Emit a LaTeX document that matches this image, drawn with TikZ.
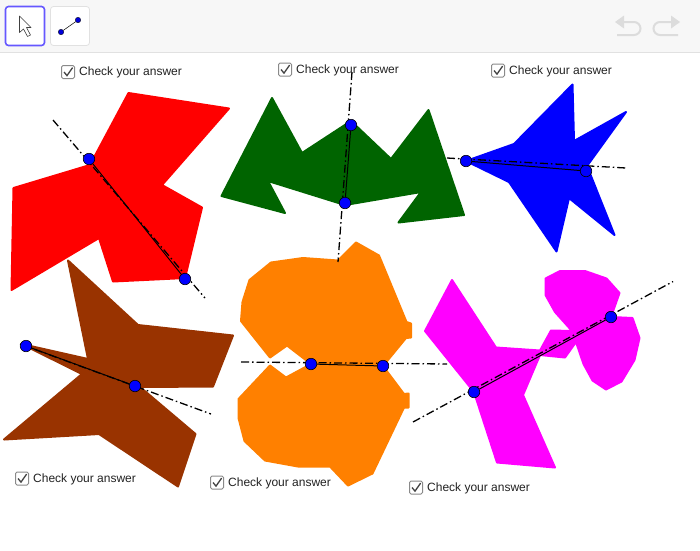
\documentclass[tikz,border=0pt]{standalone}
\usepackage{fontspec}
\setmainfont{Liberation Sans}
\definecolor{barbg}{HTML}{F7F7F7}
\definecolor{barline}{HTML}{E1E1E1}
\definecolor{toolblue}{HTML}{6557FF}
\definecolor{iconcol}{HTML}{DCDCDC}
\definecolor{boxgray}{HTML}{8A8A8A}
\definecolor{labelcol}{HTML}{222222}
\definecolor{shapebrown}{HTML}{993300}
\definecolor{shapegreen}{HTML}{006400}
\definecolor{shapeorange}{HTML}{FF8000}
\definecolor{shapemagenta}{HTML}{FF00FF}
\tikzset{
  shapefill/.style={fill=#1, draw=#1, line width=2pt, line join=round},
  axisline/.style={line width=1.3pt, dash pattern=on 8pt off 3pt on 1.5pt off 3pt},
  segline/.style={line width=1pt},
  bluept/.style={circle, draw=black, fill=blue, line width=0.6pt, minimum size=11.5pt, inner sep=0pt},
  smallpt/.style={circle, draw=black, fill=blue!85!black, line width=0.3pt, minimum size=5.5pt, inner sep=0pt},
  answerlabel/.style={anchor=west, inner sep=0pt, text=labelcol, font=\fontsize{12}{14}\selectfont},
  checkbox/.style={draw=boxgray, fill=white, line width=1pt, rounded corners=1.5pt, minimum size=13pt, inner sep=0pt},
}
\newcommand{\answerbox}[3]{%
  \node[checkbox] (box#3) at (#1,#2) {};
  \draw[line width=1.3pt, labelcol!85!white] ([shift={(-4pt,0pt)}]box#3.center) -- ([shift={(-1pt,-3.6pt)}]box#3.center) -- ([shift={(4.6pt,4.4pt)}]box#3.center);
  \node[answerlabel] (label#3) at (#1+11,#2+0.7) {Check your answer};
}
\begin{document}
\begin{tikzpicture}[x=1pt, y=-1pt]
\useasboundingbox (0,0) rectangle (700,550);
\fill[white] (0,0) rectangle (700,550);

% toolbar
\fill[barbg] (0,0) rectangle (700,52);
\draw[barline, line width=1pt] (0,52.5) -- (700,52.5);
\draw[toolblue, fill=white, line width=1.6pt, rounded corners=3pt] (5.5,6.5) rectangle (44.5,45.5);
\draw[barline, fill=white, line width=0.8pt, rounded corners=3pt] (50.5,6.5) rectangle (89.5,45.5);
\draw[black!75, fill=white, line width=0.6pt, line join=round] (19.5,16) -- (31,27.5) -- (26.5,27.5) -- (30.5,35) -- (27.5,36.5) -- (23.5,29) -- (19.5,32.5) -- cycle;
\node[smallpt] (toolA) at (61,32) {};
\node[smallpt] (toolB) at (78,20) {};
\draw[line width=0.5pt] (toolA) -- (toolB);

% undo and redo
\draw[iconcol, line width=2pt] (618,22) -- (634,22) arc (-90:90:6.5) -- (617,35);
\fill[iconcol] (615,22) -- (624,15.5) -- (624,28.5) -- cycle;
\draw[iconcol, line width=2pt] (679,22) -- (660,22) arc (-90:-270:6.5) -- (678,35);
\fill[iconcol] (680,22) -- (671,15.5) -- (671,28.5) -- cycle;

% shapes
\filldraw[shapefill=red] (128.5,93) -- (229,108.5) -- (162,185) -- (202,207.5) -- (185,278) -- (113,281.5) -- (99,238) -- (11.5,290) -- (13.5,188) -- (90,165) -- cycle;
\filldraw[shapefill=shapegreen] (272,98) -- (302,153) -- (351,121) -- (391,159) -- (428.5,110) -- (464,215) -- (398.5,222.5) -- (421,192) -- (345,205) -- (268,181) -- (285,213) -- (221.5,196) -- cycle;
\filldraw[shapefill=blue] (572.5,84.5) -- (574,141) -- (626,112) -- (587,166) -- (614.5,235) -- (569,198) -- (556.5,251.5) -- (509,182) -- (466,161) -- (514,144) -- cycle;
\filldraw[shapefill=shapebrown] (68,260.5) -- (138,325) -- (233,335.5) -- (213,386.5) -- (140,387) -- (195.5,434) -- (178,486.5) -- (99,434) -- (4,439.5) -- (82,374) -- (21.5,344) -- (88,359) -- cycle;
\filldraw[shapefill=shapeorange] (356,242.5) -- (379,255.5) -- (406.5,322) -- (411,323.5) -- (411,337.5) -- (406,338) -- (383,366) -- (311,364) -- (287,345.5) -- (270,357.5) -- (241,321) -- (242.5,302) -- (249.5,280) -- (271,262.5) -- (303,258) -- (338,260.5) -- cycle;
\filldraw[shapefill=shapeorange] (311,364) -- (286,377.5) -- (270,365.5) -- (238.5,399) -- (238.5,418) -- (244.5,441) -- (265,460.5) -- (298,466.5) -- (330,466.5) -- (348,485.5) -- (372.5,473.5) -- (404,407.5) -- (408.5,407.5) -- (408.5,393.5) -- (404,394) -- (383,366) -- cycle;
\filldraw[shapefill=shapemagenta] (452,280) -- (496,347.5) -- (540,350.5) -- (551,330.5) -- (572,331) -- (555,312) -- (545.5,295) -- (545.5,278.5) -- (560,271) -- (585,271) -- (606.5,278.5) -- (619.5,293) -- (611,317) -- (632.5,318) -- (639.5,338) -- (634.5,360) -- (621.5,381.5) -- (606,389.5) -- (592.5,380.5) -- (583.5,364) -- (576,342) -- (565,357.5) -- (540,355) -- (523,395) -- (555,467.5) -- (497,462.5) -- (474,392) -- (425,331) -- cycle;

% red pair
\coordinate (redU) at (53,120);
\coordinate (redV) at (205,298);
\draw[axisline] (redU) -- (redV);
\node[bluept] (redA) at (89,159) {};
\node[bluept] (redB) at (185,279) {};
\draw[segline] (redA) -- (redB);

% green pair
\coordinate (greenU) at (352,72);
\coordinate (greenV) at (338,262);
\draw[axisline] (greenU) -- (greenV);
\node[bluept] (greenA) at (351,125) {};
\node[bluept] (greenB) at (345,203) {};
\draw[segline] (greenA) -- (greenB);

% blue pair
\coordinate (blueU) at (447,158);
\coordinate (blueV) at (626,168);
\draw[axisline] (blueU) -- (blueV);
\node[bluept] (blueA) at (466,161) {};
\node[bluept] (blueB) at (586,171) {};
\draw[segline] (blueA) -- (blueB);

% brown pair
\coordinate (brownU) at (20,344);
\coordinate (brownV) at (211,414);
\draw[axisline] (brownU) -- (brownV);
\node[bluept] (brownA) at (26,346) {};
\node[bluept] (brownB) at (135,386) {};
\draw[segline] (brownA) -- (brownB);

% orange pair
\coordinate (orangeU) at (241,362);
\coordinate (orangeV) at (447,364);
\draw[axisline] (orangeU) -- (orangeV);
\node[bluept] (orangeA) at (311,364) {};
\node[bluept] (orangeB) at (383,366) {};
\draw[segline] (orangeA) -- (orangeB);

% magenta pair
\coordinate (magentaU) at (413,422);
\coordinate (magentaV) at (673,281.5);
\draw[axisline] (magentaU) -- (magentaV);
\node[bluept] (magentaA) at (474,392) {};
\node[bluept] (magentaB) at (611,317) {};
\draw[segline] (magentaA) -- (magentaB);

% check boxes
\answerbox{68}{72}{Red}
\answerbox{285}{69.5}{Green}
\answerbox{498}{70.5}{Blue}
\answerbox{22}{478.5}{Brown}
\answerbox{217}{482.5}{Orange}
\answerbox{416}{487.5}{Magenta}

\end{tikzpicture}
\end{document}
